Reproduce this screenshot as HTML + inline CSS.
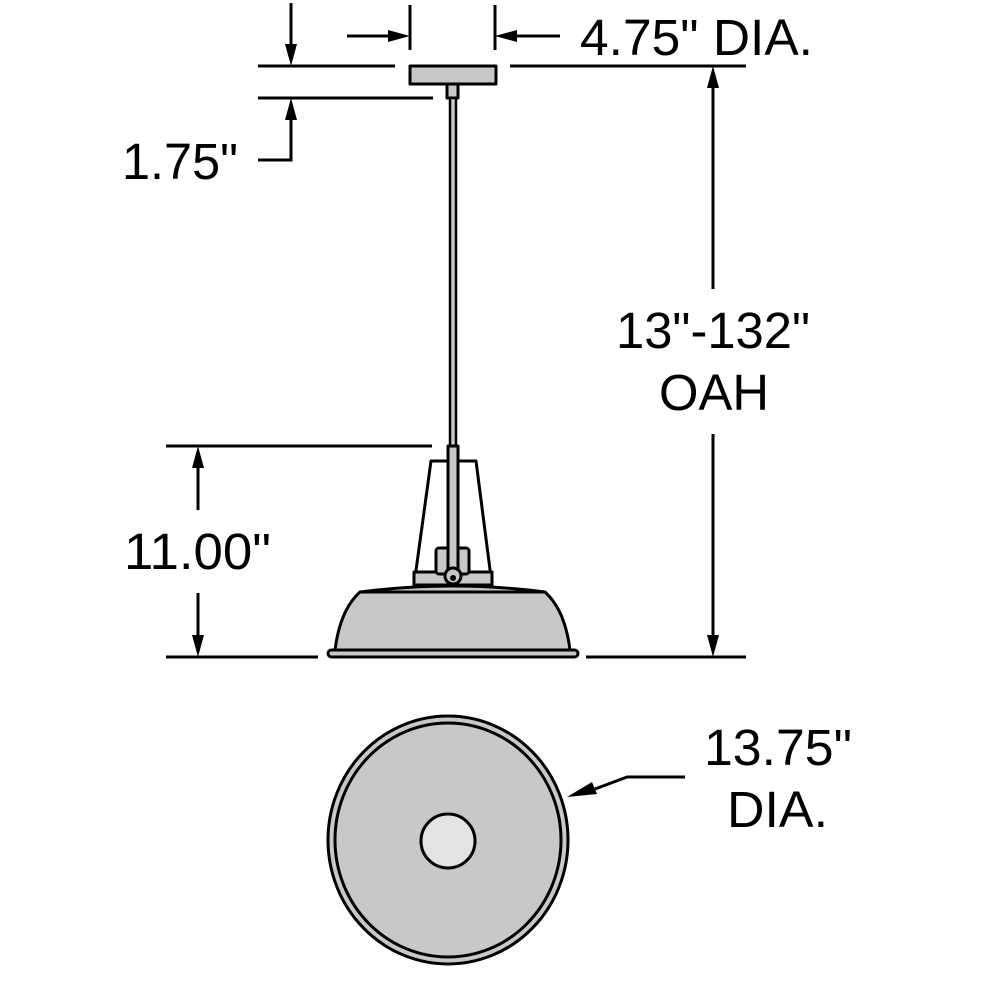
<!DOCTYPE html>
<html><head><meta charset="utf-8"><style>html,body{margin:0;padding:0;background:#fff}svg{display:block}</style></head>
<body>
<svg width="1000" height="1000" viewBox="0 0 1000 1000" xmlns="http://www.w3.org/2000/svg">
<g stroke="#000" stroke-width="3" fill="none">
<line x1="258" y1="66" x2="395" y2="66"/>
<line x1="510" y1="66" x2="746" y2="66"/>
<line x1="258" y1="98" x2="433" y2="98"/>
<line x1="291" y1="3" x2="291" y2="50"/>
<polyline points="258,160 291,160 291,115"/>
<line x1="410" y1="5" x2="410" y2="50"/>
<line x1="495" y1="5" x2="495" y2="50"/>
<line x1="347" y1="36" x2="392" y2="36"/>
<line x1="560" y1="36" x2="512" y2="36"/>
<line x1="713" y1="289" x2="713" y2="85"/>
<line x1="713" y1="434" x2="713" y2="640"/>
<line x1="166" y1="446" x2="432" y2="446"/>
<line x1="166" y1="657" x2="318" y2="657"/>
<line x1="586" y1="657" x2="746" y2="657"/>
<line x1="198" y1="510" x2="198" y2="465"/>
<line x1="198" y1="593" x2="198" y2="638"/>
<polyline points="685,777 627,777 595,789"/>
</g>
<g fill="#000">
<polygon points="285,44 297,44 291,66"/>
<polygon points="285,120 297,120 291,98"/>
<polygon points="388,30 388,42 410,36"/>
<polygon points="517,30 517,42 495,36"/>
<polygon points="707,88 719,88 713,66"/>
<polygon points="707,635 719,635 713,657"/>
<polygon points="192,468 204,468 198,446"/>
<polygon points="192,635 204,635 198,657"/>
<polygon points="592,782 597,794 567,797"/>
</g>
<g stroke="#000" stroke-width="3" fill="#c8c8c8" stroke-linejoin="round">
<rect x="410" y="66" width="86" height="18"/>
<rect x="447" y="84" width="11" height="14"/>
<rect x="450" y="98" width="6" height="348" stroke-width="2.5"/>
<path d="M431,461 L476,461 L492,585 L414,585 Z" fill="#fff"/>
<rect x="414" y="572" width="78" height="13"/>
<rect x="436" y="548" width="33" height="26" rx="3"/>
<path d="M360,592 Q453,580 545,592 Q565,610 570,650 L335,650 Q340,610 360,592 Z"/>
<line x1="360" y1="592" x2="545" y2="592"/>
<rect x="328" y="650" width="250" height="7" rx="3.5"/>
<path d="M448,446 L458,446 L458,576 A6,6 0 0 1 448,576 Z"/>
<circle cx="453" cy="576" r="8"/>
</g>
<circle cx="453" cy="578" r="3" fill="#000"/>
<ellipse cx="448" cy="840" rx="120" ry="124" fill="#c8c8c8" stroke="#000" stroke-width="3"/>
<ellipse cx="448" cy="840" rx="113" ry="117" fill="none" stroke="#000" stroke-width="3"/>
<circle cx="448" cy="841" r="27" fill="#e3e3e3" stroke="#000" stroke-width="3"/>
<g font-family="Liberation Sans, sans-serif" font-size="51" fill="#000">
<text x="580" y="55" textLength="233" lengthAdjust="spacingAndGlyphs">4.75" DIA.</text>
<text x="122" y="179" textLength="116" lengthAdjust="spacingAndGlyphs">1.75"</text>
<text x="616" y="348" textLength="194" lengthAdjust="spacingAndGlyphs">13"-132"</text>
<text x="659" y="410" textLength="110" lengthAdjust="spacingAndGlyphs">OAH</text>
<text x="124" y="569" textLength="147" lengthAdjust="spacingAndGlyphs">11.00"</text>
<text x="704" y="765" textLength="148" lengthAdjust="spacingAndGlyphs">13.75"</text>
<text x="727" y="827" textLength="101" lengthAdjust="spacingAndGlyphs">DIA.</text>
</g>
</svg>
</body></html>
